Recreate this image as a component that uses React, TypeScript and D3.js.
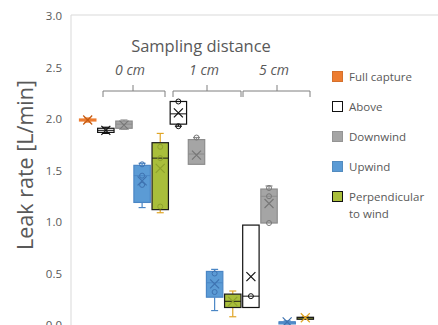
import { useEffect, useRef } from 'react';
import * as d3 from 'd3';

// categories
const groups = ['0 cm', '1 cm', '5 cm'];
const seriesNames = ['Full capture', 'Above', 'Downwind', 'Upwind', 'Perpendicular to wind'];
const yTicks = [0, 0.5, 1, 1.5, 2, 2.5, 3];

// one entry per box (left to right)
const boxGroup = [0, 0, 0, 0, 0, 1, 1, 1, 1, 2, 2, 2, 2];
const boxSeries = [0, 1, 2, 3, 4, 1, 2, 3, 4, 1, 2, 3, 4];
const boxMin = [1.97, 1.86, 1.9, 1.14, 1.09, 1.93, 1.56, 0.14, 0.08, 0.17, 0.99, 0.01, 0.065];
const boxQ1 = [1.985, 1.87, 1.91, 1.19, 1.12, 1.95, 1.56, 0.27, 0.17, 0.17, 0.99, 0.02, 0.065];
const boxMedian = [1.99, 1.89, 1.95, 1.45, 1.62, 2.05, 1.66, 0.41, 0.23, 0.28, 1.25, 0.03, 0.07];
const boxQ3 = [2.0, 1.91, 1.98, 1.55, 1.77, 2.17, 1.8, 0.52, 0.3, 0.97, 1.32, 0.03, 0.075];
const boxMax = [2.01, 1.92, 1.99, 1.57, 1.86, 2.17, 1.82, 0.54, 0.33, 0.97, 1.35, 0.04, 0.08];
const boxMean = [1.99, 1.89, 1.94, 1.4, 1.52, 2.06, 1.65, 0.4, 0.23, 0.47, 1.18, 0.03, 0.07];
const boxPoints = [
  [], [], [], [1.56, 1.45, 1.36], [1.73, 1.62, 1.15],
  [2.17, 1.93], [1.82], [0.5, 0.32], [],
  [0.28], [1.33, 1.25, 0.99], [], [],
];

const fills = ['#ED7D31', '#FFFFFF', '#A5A5A5', '#5B9BD5', '#A9BE3B'];
const strokes = ['#ED7D31', '#111111', '#8C8C8C', '#4A86C5', '#1A1A1A'];
const whiskerColors = ['#ED7D31', '#111111', '#8C8C8C', '#4A86C5', '#E0A526'];
const markColors = ['#C55A11', '#111111', '#777777', '#3E72B0', '#8EA12C'];

const W = 438;
const H = 325;
const textColor = '#595959';
const font = '"Open Sans", sans-serif';

// bracket annotations [left, middle, right]
const brackets = [
  [103, 133, 165],
  [173, 207, 241],
  [243, 277, 310],
];

export default function App() {
  const svgRef = useRef<SVGSVGElement>(null);

  useEffect(() => {
    const svg = d3.select(svgRef.current);
    svg.selectAll('*').remove();

    const y = d3.scaleLinear().domain([0, 3]).range([325, 16]);
    const x = d3.scaleBand<number>()
      .domain(boxGroup.map((_, i) => i))
      .range([79, 314])
      .paddingInner(0.04);

    // frame lines
    svg.append('line').attr('x1', 71).attr('x2', W).attr('y1', y(3) - 1).attr('y2', y(3) - 1)
      .attr('stroke', '#d9d9d9').attr('stroke-width', 1);
    svg.append('line').attr('x1', 71).attr('x2', 71).attr('y1', y(3) - 1).attr('y2', H)
      .attr('stroke', '#d9d9d9').attr('stroke-width', 1);

    // y tick labels
    svg.append('g').selectAll('text').data(yTicks).enter().append('text')
      .attr('x', 62).attr('y', d => y(d)).attr('dy', '0.35em')
      .attr('text-anchor', 'end').attr('font-family', font).attr('font-size', 11.5)
      .attr('fill', textColor).text(d => d.toFixed(1));

    // y title
    svg.append('text')
      .attr('transform', `translate(33, 165) rotate(-90)`)
      .attr('text-anchor', 'middle').attr('font-family', font).attr('font-size', 21.5)
      .attr('fill', textColor).text('Leak rate [L/min]');

    // group labels
    svg.append('text').attr('x', 201).attr('y', 52).attr('text-anchor', 'middle')
      .attr('font-family', font).attr('font-size', 16.5).attr('fill', textColor)
      .text('Sampling distance');
    svg.append('g').selectAll('text').data(groups).enter().append('text')
      .attr('x', (_, i) => brackets[i][1] - 3).attr('y', 75).attr('text-anchor', 'middle')
      .attr('font-family', font).attr('font-size', 14).attr('font-style', 'italic')
      .attr('fill', textColor).text(d => d);
    svg.append('g').selectAll('path').data(brackets).enter().append('path')
      .attr('d', b => `M${b[0]},97 L${b[0]},91 L${b[2]},91 L${b[2]},97 M${b[1]},91 L${b[1]},85`)
      .attr('fill', 'none').attr('stroke', '#7f7f7f').attr('stroke-width', 1);

    // boxes
    const bw = x.bandwidth();
    const boxes = svg.append('g').selectAll('g').data(boxGroup.map((_, i) => i)).enter().append('g');

    // whiskers
    boxes.append('line')
      .attr('x1', i => x(i)! + bw / 2).attr('x2', i => x(i)! + bw / 2)
      .attr('y1', i => y(boxMax[i])).attr('y2', i => y(boxQ3[i]))
      .attr('stroke', i => whiskerColors[boxSeries[i]]).attr('stroke-width', 1.2);
    boxes.append('line')
      .attr('x1', i => x(i)! + bw / 2).attr('x2', i => x(i)! + bw / 2)
      .attr('y1', i => y(boxMin[i])).attr('y2', i => y(boxQ1[i]))
      .attr('stroke', i => whiskerColors[boxSeries[i]]).attr('stroke-width', 1.2);
    boxes.filter(i => boxMax[i] > boxQ3[i]).append('line')
      .attr('x1', i => x(i)! + bw / 2 - 3.5).attr('x2', i => x(i)! + bw / 2 + 3.5)
      .attr('y1', i => y(boxMax[i])).attr('y2', i => y(boxMax[i]))
      .attr('stroke', i => whiskerColors[boxSeries[i]]).attr('stroke-width', 1.2);
    boxes.filter(i => boxMin[i] < boxQ1[i]).append('line')
      .attr('x1', i => x(i)! + bw / 2 - 3.5).attr('x2', i => x(i)! + bw / 2 + 3.5)
      .attr('y1', i => y(boxMin[i])).attr('y2', i => y(boxMin[i]))
      .attr('stroke', i => whiskerColors[boxSeries[i]]).attr('stroke-width', 1.2);

    // box body
    boxes.append('rect')
      .attr('x', i => x(i)! + 0.5).attr('width', bw - 1)
      .attr('y', i => y(boxQ3[i]))
      .attr('height', i => Math.max(2, y(boxQ1[i]) - y(boxQ3[i])))
      .attr('fill', i => fills[boxSeries[i]])
      .attr('stroke', i => strokes[boxSeries[i]]).attr('stroke-width', 1.2);

    // median line
    boxes.append('line')
      .attr('x1', i => x(i)! + 0.5).attr('x2', i => x(i)! + bw - 0.5)
      .attr('y1', i => y(boxMedian[i])).attr('y2', i => y(boxMedian[i]))
      .attr('stroke', i => strokes[boxSeries[i]]).attr('stroke-width', 1);

    // inner points
    boxes.each(function (i) {
      d3.select(this).selectAll('circle').data(boxPoints[i]).enter().append('circle')
        .attr('cx', x(i)! + bw / 2).attr('cy', v => y(v)).attr('r', 2.5)
        .attr('fill', 'none').attr('stroke', markColors[boxSeries[i]]).attr('stroke-width', 1);
    });

    // mean marker
    const s = 4.5;
    boxes.append('path')
      .attr('d', i => {
        const cx = x(i)! + bw / 2;
        const cy = y(boxMean[i]);
        return `M${cx - s},${cy - s} L${cx + s},${cy + s} M${cx - s},${cy + s} L${cx + s},${cy - s}`;
      })
      .attr('fill', 'none')
      .attr('stroke', i => (boxSeries[i] === 4 && boxQ3[i] - boxQ1[i] < 0.05 ? whiskerColors[4] : markColors[boxSeries[i]]))
      .attr('stroke-width', 1.2);

    // legend
    const legend = svg.append('g').selectAll('g').data(seriesNames).enter().append('g')
      .attr('transform', (_, i) => `translate(332, ${77 + i * 30})`);
    legend.append('rect').attr('x', 0.5).attr('y', -5.5).attr('width', 10).attr('height', 10)
      .attr('fill', (_, i) => fills[i])
      .attr('stroke', (_, i) => (i === 1 || i === 4 ? '#111111' : d3.color(fills[i])!.darker(0.3).toString()))
      .attr('stroke-width', 1);
    legend.append('text').attr('x', 17).attr('y', 0).attr('dy', '0.35em')
      .attr('font-family', font).attr('font-size', 11.5).attr('fill', textColor)
      .each(function (d) {
        const t = d3.select(this);
        const lines = d === 'Perpendicular to wind' ? ['Perpendicular', 'to wind'] : [d];
        lines.forEach((l, k) => {
          t.append('tspan').attr('x', 17).attr('dy', k === 0 ? '0.35em' : '1.5em').text(l);
        });
      });
  }, []);

  return (
    <div style={{ position: 'absolute', left: 0, top: 0 }}>
      <svg ref={svgRef} width={W} height={H} style={{ display: 'block', background: '#fff' }}></svg>
    </div>
  );
}
